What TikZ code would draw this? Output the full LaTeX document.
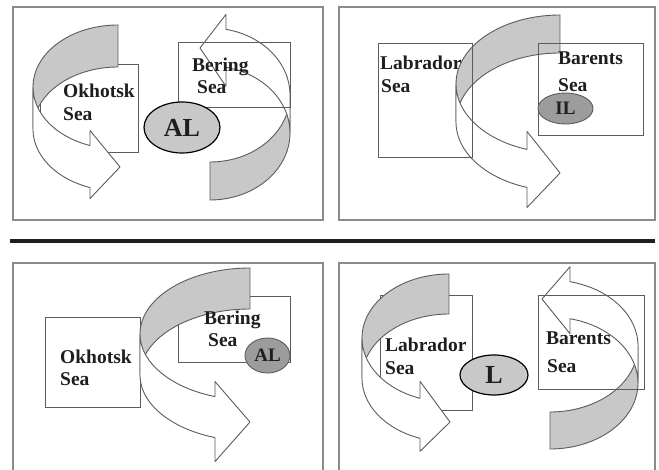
\documentclass[tikz,border=0pt]{standalone}
\usepackage{fontspec}
\setmainfont{Liberation Serif}
\usetikzlibrary{shapes.geometric}
\definecolor{bandgray}{HTML}{C8C8C8}
\definecolor{ellgray}{HTML}{9C9C9C}
\definecolor{edgegray}{HTML}{5C5C5C}
\definecolor{framegray}{HTML}{8C8C8C}
\definecolor{inkc}{HTML}{1E1E1E}
\tikzset{
  backband/.style={fill=bandgray, draw=edgegray, line width=0.9pt, line join=round},
  frontband/.style={fill=white, draw=edgegray, line width=0.9pt, line join=round},
  seabox/.style={draw=edgegray, line width=0.9pt},
  seaboxw/.style={draw=edgegray, fill=white, line width=0.9pt},
  frame/.style={draw=framegray, line width=1.5pt},
  lbl/.style={font=\fontsize{19.5}{23}\selectfont\bfseries, text=inkc, inner sep=0pt, anchor=base west},
  lowbig/.style={ellipse, draw=black, line width=1.2pt, fill=bandgray, inner sep=0pt, text=inkc,
     font=\fontsize{26}{30}\selectfont\bfseries},
  lowsmall/.style={ellipse, draw=edgegray, line width=0.9pt, fill=ellgray, inner sep=0pt, text=inkc,
     font=\fontsize{19}{23}\selectfont\bfseries}
}
% #1 w, #2 h, #3 th, #4 ah, #5 d1, #6 d2, #7 tip u, #8 tip v
\newcommand{\curvarrow}[8]{%
  \pgfmathsetmacro{\arrang}{acos(-(#4)/(#1))}%
  \pgfmathsetmacro{\arryf}{(#2)*sin(\arrang)}%
  \pgfmathsetmacro{\arrys}{(#3)+(#2)*sin(\arrang)}%
  \path[backband] plot[domain=0:1,samples=40] ({(#1)*cos(270-90*\x)},{(#2)*sin(270-90*\x)})
     -- plot[domain=0:1,samples=40] ({(#1)*cos(180+90*\x)},{(#3)+(#2)*sin(180+90*\x)}) -- cycle;
  \path[frontband] plot[domain=0:1,samples=40] ({(#1)*cos(180-(180-\arrang)*\x)},{(#2)*sin(180-(180-\arrang)*\x)})
     -- (-#4,\arryf-#5) -- (#7,#8) -- (-#4,\arrys+#6)
     -- plot[domain=0:1,samples=40] ({(#1)*cos(\arrang+(180-\arrang)*\x)},{(#3)+(#2)*sin(\arrang+(180-\arrang)*\x)}) -- cycle;
}
\begin{document}
\begin{tikzpicture}[x=1pt,y=-1pt]
\useasboundingbox (0,0) rectangle (659,470);
\fill[white] (0,0) rectangle (659,470);

% ---------- panel 1 ----------
\draw[frame] (13,7) rectangle (323,220);
\draw[seaboxw] (40,64) rectangle (138,152);
\begin{scope}[shift={(118,87)}]
  \curvarrow{85}{62}{42}{28}{15}{11}{2}{80}
\end{scope}
\node[lbl] (okh1a) at (63,98) {Okhotsk};
\node[lbl] (okh1b) at (63,121) {Sea};
\begin{scope}[shift={(210,133)},rotate=180]
  \curvarrow{80}{67}{38}{16}{19}{15}{10}{85}
\end{scope}
\draw[seabox] (178,42) rectangle (290,107);
\node[lbl] (ber1a) at (192,72) {Bering};
\node[lbl] (ber1b) at (197,94) {Sea};
\node[lowbig, minimum width=76pt, minimum height=51pt] (al1) at (182,127.5) {AL};

% ---------- panel 2 ----------
\draw[frame] (339,7) rectangle (655,220);
\node[lbl] (lab2a) at (380,70) {Labrador};
\node[lbl] (lab2b) at (381,93) {Sea};
\begin{scope}[shift={(560,84)}]
  \curvarrow{104}{69}{38}{33}{18}{20}{0}{89}
\end{scope}
\draw[seabox] (378,43) rectangle (472,157);
\draw[seabox] (538,43) rectangle (643,135);
\node[lbl] (bar2a) at (558,65) {Barents};
\node[lbl] (bar2b) at (558,92) {Sea};
\node[lowsmall, minimum width=55pt, minimum height=31pt] (il2) at (565.5,108.5) {IL};

% ---------- separator ----------
\draw[line width=3.5pt, draw=inkc] (10,241) -- (655,241);

% ---------- panel 3 ----------
\draw[frame] (13,471) -- (13,263) -- (323,263) -- (323,471);
\draw[seaboxw] (45,317) rectangle (140,407);
\draw[seaboxw] (178,296) rectangle (290,362);
\begin{scope}[shift={(250,334)}]
  \curvarrow{110}{66}{41}{35}{15}{24}{0}{88}
\end{scope}
\node[lbl] (okh3a) at (60,363) {Okhotsk};
\node[lbl] (okh3b) at (60,386) {Sea};
\node[lbl] (ber3a) at (204,325) {Bering};
\node[lbl] (ber3b) at (208,347) {Sea};
\node[lowsmall, minimum width=45pt, minimum height=35pt] (al3) at (267.5,355.5) {AL};

% ---------- panel 4 ----------
\draw[frame] (339,471) -- (339,263) -- (655,263) -- (655,471);
\draw[seaboxw] (380,295) rectangle (472,410);
\begin{scope}[shift={(449,338)}]
  \curvarrow{87}{64}{40}{29}{17}{13}{1}{84}
\end{scope}
\node[lbl] (lab4a) at (385,352) {Labrador};
\node[lbl] (lab4b) at (385,375) {Sea};
\node[lowbig, minimum width=68pt, minimum height=40pt] (l4) at (494,375) {L};
\begin{scope}[shift={(550,383)},rotate=180]
  \curvarrow{88}{66}{37}{20}{15}{15}{8}{84}
\end{scope}
\draw[seabox] (538,295) rectangle (644,389);
\node[lbl] (bar4a) at (546,345) {Barents};
\node[lbl] (bar4b) at (547,373) {Sea};
\end{tikzpicture}
\end{document}
